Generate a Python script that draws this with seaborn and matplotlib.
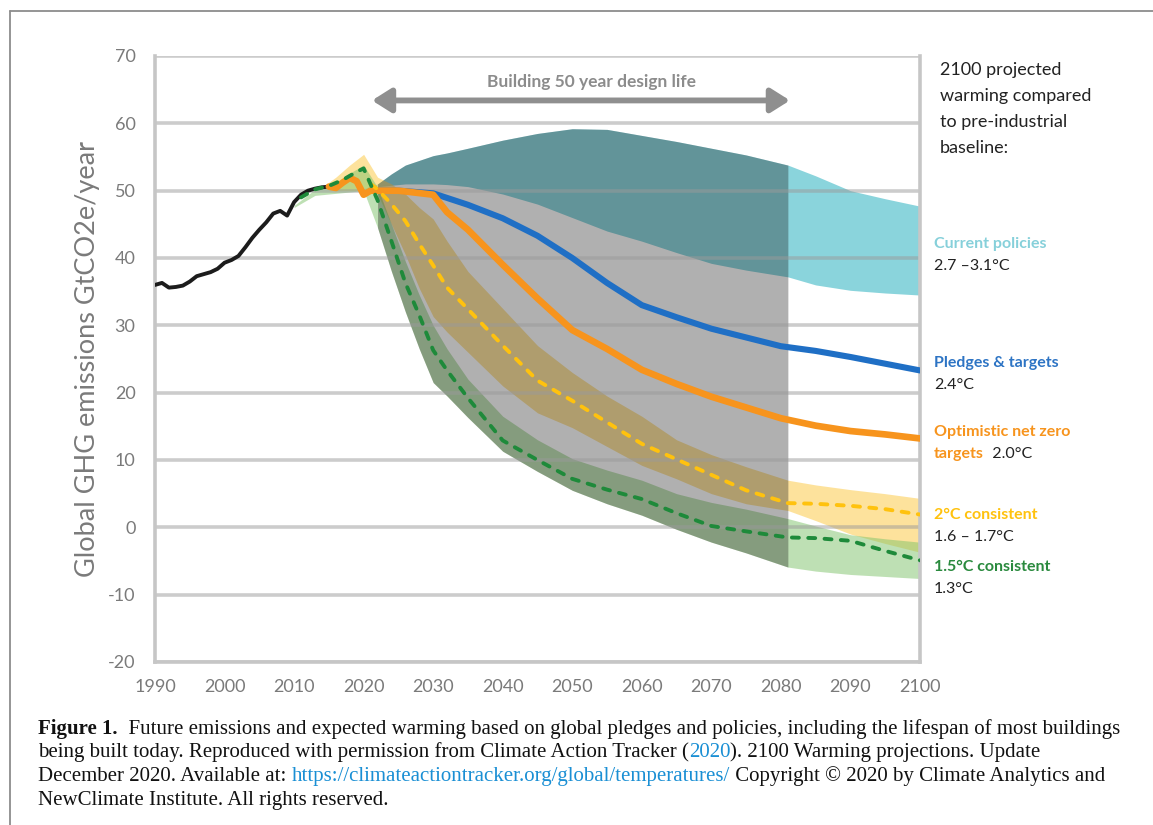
import numpy as np
import pandas as pd
import matplotlib
matplotlib.use("Agg")
import matplotlib.pyplot as plt
from matplotlib.lines import Line2D
import seaborn as sns

# ---------------- data ----------------
hist_years = [1990, 1991, 1992, 1993, 1994, 1995, 1996, 1997, 1998, 1999, 2000, 2001, 2002,
              2003, 2004, 2005, 2006, 2007, 2008, 2009, 2010, 2011, 2012, 2013, 2014, 2015]
hist_emissions = [36.0, 36.3, 35.6, 35.7, 35.9, 36.5, 37.3, 37.6, 37.9, 38.4, 39.3, 39.7, 40.3,
                  41.6, 43.0, 44.2, 45.3, 46.6, 47.0, 46.3, 48.3, 49.4, 50.0, 50.3, 50.5, 50.6]

netzero_years = [2015, 2016, 2017, 2018, 2019, 2020, 2021, 2025, 2030, 2032, 2035, 2040, 2045,
                 2050, 2055, 2060, 2065, 2070, 2075, 2080, 2085, 2090, 2095, 2100]
netzero_values = [50.6, 50.4, 51.2, 51.9, 51.4, 49.4, 50.0, 50.0, 49.4, 46.8, 44.2, 39.0, 34.0,
                  29.3, 26.5, 23.4, 21.3, 19.4, 17.8, 16.2, 15.1, 14.3, 13.8, 13.2]

pledges_years = [2021, 2025, 2030, 2035, 2040, 2045, 2050, 2055, 2060, 2065, 2070, 2075, 2080,
                 2085, 2090, 2095, 2100]
pledges_values = [50.0, 50.0, 49.6, 47.9, 45.9, 43.3, 40.0, 36.3, 33.0, 31.2, 29.5, 28.2, 26.9,
                  26.2, 25.3, 24.3, 23.3]

# common year grid of the projection ranges
proj_years = [2020, 2022, 2024, 2026, 2028, 2030, 2032, 2035, 2040, 2045, 2050, 2055, 2060,
              2065, 2070, 2075, 2081, 2085, 2090, 2095, 2100]
current_upper = [50.3, 51.0, 52.5, 53.8, 54.5, 55.2, 55.6, 56.3, 57.5, 58.5, 59.2, 59.1, 58.2,
                 57.3, 56.3, 55.3, 53.8, 52.2, 50.0, 48.8, 47.7]
current_lower = [50.3, 50.6, 50.8, 51.0, 51.0, 51.0, 50.9, 50.6, 49.5, 48.0, 46.0, 44.0, 42.5,
                 40.8, 39.2, 38.2, 37.2, 36.0, 35.2, 34.8, 34.5]
c2_upper = [55.4, 52.0, 51.0, 49.5, 47.5, 45.8, 42.5, 38.0, 32.5, 27.0, 23.0, 19.5, 16.5,
            13.0, 10.8, 9.0, 7.0, 6.3, 5.6, 5.0, 4.3]
c2_lower = [50.0, 49.5, 45.0, 40.5, 35.5, 31.3, 29.0, 26.0, 21.0, 17.0, 14.8, 12.0, 9.2,
            7.2, 5.0, 3.5, 2.5, 1.0, -1.0, -2.4, -3.7]
c15_upper = [53.8, 50.5, 45.0, 39.5, 34.5, 30.0, 26.5, 22.0, 16.5, 13.0, 10.2, 8.5, 7.0,
             5.0, 3.7, 2.7, 1.3, 0.2, -1.1, -1.7, -2.2]
c15_lower = [50.0, 44.5, 38.0, 32.0, 26.5, 21.5, 19.5, 16.3, 11.3, 8.3, 5.5, 3.5, 1.8,
             -0.3, -2.2, -3.8, -5.9, -6.5, -7.0, -7.3, -7.6]

# ranges before 2020
c2_pre_years = [2014, 2016, 2018]
c2_pre_upper = [50.5, 52.0, 53.8]
c2_pre_lower = [50.5, 50.0, 50.0]
c15_pre_years = [2010, 2013, 2016, 2018]
c15_pre_upper = [47.8, 50.2, 51.2, 52.6]
c15_pre_lower = [47.5, 49.3, 49.6, 49.8]

c2_path_years = [2021, 2022, 2024, 2026, 2028, 2030, 2032, 2035, 2040, 2045, 2050, 2055, 2060,
                 2065, 2070, 2075, 2081, 2085, 2090, 2095, 2100]
c2_path_values = [51.0, 50.2, 48.0, 45.5, 42.1, 38.9, 35.6, 32.4, 27.0, 21.8, 18.8, 15.6, 12.4,
                  10.1, 7.8, 5.5, 3.6, 3.5, 3.2, 2.7, 1.9]

c15_path_years = [2011, 2013, 2015, 2017, 2019, 2020, 2022, 2024, 2026, 2028, 2030, 2032, 2035,
                  2040, 2045, 2050, 2055, 2060, 2065, 2070, 2075, 2081, 2085, 2090, 2095, 2100]
c15_path_values = [49.0, 50.2, 50.7, 51.6, 52.8, 53.3, 48.6, 42.5, 36.3, 31.5, 26.3, 23.3, 19.2,
                   12.9, 10.0, 7.2, 5.6, 4.2, 2.1, 0.2, -0.6, -1.5, -1.6, -2.0, -3.5, -4.9]

design_life = (2021.2, 2081.3)   # building design life window
design_life_level = 63.4
design_life_label_pos = (2052.8, 66.1)

x_ticks = [1990, 2000, 2010, 2020, 2030, 2040, 2050, 2060, 2070, 2080, 2090, 2100]
y_ticks = [-20, -10, 0, 10, 20, 30, 40, 50, 60, 70]

# ---------------- style ----------------
sns.set_theme(style="white")
plt.rcParams["font.family"] = ["Lato", "DejaVu Sans"]
plt.rcParams["axes.unicode_minus"] = False

W, H = 1153, 825
fig = plt.figure(figsize=(W / 100, H / 100), dpi=100)
ax = fig.add_axes([155 / W, 1 - 662 / H, 765 / W, 606 / H])

CYAN = "#8ad4dc"
YELLOW_FILL = "#fdd160"
GREEN_FILL = "#7fc36a"

py = np.array(proj_years)

# current policies range
ax.fill_between(py, current_lower, current_upper, color=CYAN, lw=0, zorder=1)
# 2C consistent range
ax.fill_between(c2_pre_years + proj_years, c2_pre_lower + c2_lower, c2_pre_upper + c2_upper,
                color=YELLOW_FILL, alpha=0.62, lw=0, zorder=1.1)
# 1.5C consistent range
ax.fill_between(c15_pre_years + proj_years, c15_pre_lower + c15_lower, c15_pre_upper + c15_upper,
                color=GREEN_FILL, alpha=0.5, lw=0, zorder=1.2)
# grey shading of the 50 year design life window
mask = (py >= 2022) & (py <= 2081)
ax.fill_between(py, c15_lower, current_upper, where=mask, color="#141414", alpha=0.335,
                lw=0, zorder=1.3)

# lines
sns.lineplot(x=hist_years, y=hist_emissions, ax=ax, color="#1c1c1c", lw=2.8, zorder=4)
sns.lineplot(x=pledges_years, y=pledges_values, ax=ax, color="#1f6fc5", lw=4.4, zorder=4)
sns.lineplot(x=netzero_years, y=netzero_values, ax=ax, color="#f7941d", lw=4.8, zorder=4.1)
sns.lineplot(x=c2_path_years, y=c2_path_values, ax=ax, color="#ffc20e", lw=2.8, zorder=4.2)
ax.lines[-1].set_dashes([1.8, 2.4])
ax.lines[-1].set_dash_capstyle("round")
sns.lineplot(x=c15_path_years, y=c15_path_values, ax=ax, color="#1e8a3a", lw=2.8, zorder=4.3)
ax.lines[-1].set_dashes([1.8, 2.4])
ax.lines[-1].set_dash_capstyle("round")

# design life arrow
ax.annotate("", xy=(design_life[1], design_life_level), xytext=(design_life[0], design_life_level),
            arrowprops=dict(arrowstyle="<|-|>,head_length=0.95,head_width=0.6", lw=4.2,
                            color="#8f8f8f", shrinkA=0, shrinkB=0), zorder=5)
ax.text(*design_life_label_pos, "Building 50 year design life", ha="center", va="center",
        fontsize=12.5, fontweight="bold", color="#8c8c8c", zorder=5)

# axes
ax.set_xlim(1990, 2100)
ax.set_ylim(-20, 70)
ax.set_xticks(x_ticks)
ax.set_yticks(y_ticks)
ax.tick_params(axis="both", length=0, labelsize=13, labelcolor="#7a7a7a")
ax.tick_params(axis="x", pad=12)
ax.tick_params(axis="y", pad=14)
ax.set_axisbelow(False)
ax.grid(axis="y", color="#9a9a9a", alpha=0.5, lw=2.6, zorder=2.5)
ax.grid(axis="x", visible=False)
for side in ["left", "bottom", "right"]:
    ax.spines[side].set_color("#c6c6c6")
    ax.spines[side].set_linewidth(2.6)
    ax.spines[side].set_zorder(2.6)
ax.spines["top"].set_visible(False)
ax.set_xlabel("")
ax.set_ylabel("Global GHG emissions GtCO2e/year", fontsize=19.5, color="#7a7a7a")
ax.yaxis.label.set_verticalalignment("center")
ax.yaxis.set_label_coords((88 - 155) / 765, 0.5)

# ---------------- text helpers ----------------
renderer = fig.canvas.get_renderer()


def rich_line(x, y, segs, size, family, va="baseline"):
    for s, color, weight in segs:
        t = fig.text(x / W, 1 - y / H, s, color=color, fontsize=size, fontweight=weight,
                     family=family, va=va, ha="left")
        bb = t.get_window_extent(renderer=renderer)
        x += bb.width
    return x


DARK = "#222222"
SANS = ["Lato", "DejaVu Sans"]

fig.text(940 / W, 1 - 62 / H, "2100 projected\nwarming compared\nto pre-industrial\nbaseline:",
         fontsize=13, color=DARK, va="top", ha="left", linespacing=1.76, family=SANS)

labels = [
    (248, [("Current policies", "#86d0da", "bold")]),
    (270, [("2.7 \u20133.1°C", DARK, "normal")]),
    (367, [("Pledges & targets", "#2d74c4", "bold")]),
    (389, [("2.4°C", DARK, "normal")]),
    (436, [("Optimistic net zero", "#f7941d", "bold")]),
    (458, [("targets", "#f7941d", "bold"), ("  2.0°C", DARK, "normal")]),
    (519, [("2°C consistent", "#ffc20e", "bold")]),
    (541, [("1.6 \u2013 1.7°C", DARK, "normal")]),
    (571, [("1.5°C consistent", "#2a8a3e", "bold")]),
    (593, [("1.3°C", DARK, "normal")]),
]
for yb, segs in labels:
    rich_line(934, yb, segs, 11.5, SANS)

# caption
SERIF = ["Liberation Serif", "DejaVu Serif"]
BLUE = "#1a8fd4"
cap = [
    (734, [("Figure 1.", "#111111", "bold"),
           ("  Future emissions and expected warming based on global pledges and policies, "
            "including the lifespan of most buildings", "#111111", "normal")]),
    (757, [("being built today. Reproduced with permission from Climate Action Tracker (", "#111111", "normal"),
           ("2020", BLUE, "normal"), ("). 2100 Warming projections. Update", "#111111", "normal")]),
    (781, [("December 2020. Available at: ", "#111111", "normal"),
           ("https://climateactiontracker.org/global/temperatures/", BLUE, "normal"),
           (" Copyright © 2020 by Climate Analytics and", "#111111", "normal")]),
    (805, [("NewClimate Institute. All rights reserved.", "#111111", "normal")]),
]
for yb, segs in cap:
    rich_line(38, yb, segs, 15, SERIF)

# figure border (left and top)
fig.add_artist(Line2D([10 / W, 10 / W], [0, 1 - 11 / H], transform=fig.transFigure,
                      color="#8c8c8c", lw=1.3))
fig.add_artist(Line2D([10 / W, 1], [1 - 11 / H, 1 - 11 / H], transform=fig.transFigure,
                      color="#8c8c8c", lw=1.3))

fig.savefig("out.png", dpi=100, facecolor="white")
